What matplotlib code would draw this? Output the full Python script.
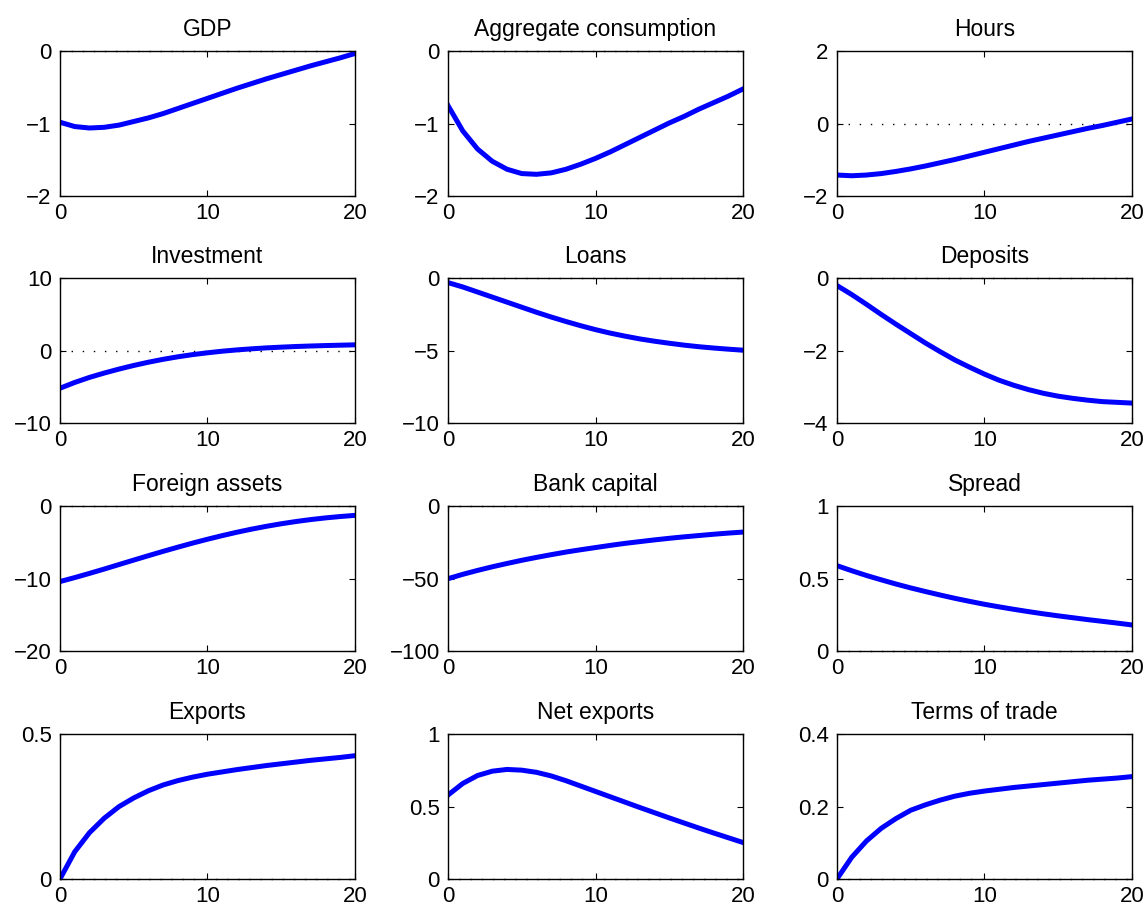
import matplotlib
matplotlib.use('Agg')
import matplotlib.pyplot as plt
import numpy as np

plt.rcParams['font.family'] = ['Liberation Sans', 'DejaVu Sans']

periods = np.arange(21)

titles = ['GDP', 'Aggregate consumption', 'Hours',
          'Investment', 'Loans', 'Deposits',
          'Foreign assets', 'Bank capital', 'Spread',
          'Exports', 'Net exports', 'Terms of trade']

gdp = [-0.98, -1.04, -1.06, -1.05, -1.02, -0.97, -0.92, -0.86, -0.79, -0.72, -0.65,
       -0.58, -0.51, -0.445, -0.38, -0.32, -0.26, -0.2, -0.145, -0.09, -0.03]
consumption = [-0.75, -1.1, -1.35, -1.52, -1.63, -1.69, -1.70, -1.68, -1.63, -1.56, -1.48,
               -1.39, -1.29, -1.19, -1.09, -0.99, -0.90, -0.80, -0.71, -0.62, -0.52]
hours = [-1.42, -1.44, -1.42, -1.38, -1.32, -1.25, -1.17, -1.08, -0.99, -0.89, -0.79,
         -0.69, -0.59, -0.49, -0.40, -0.31, -0.22, -0.13, -0.05, 0.04, 0.13]
investment = [-5.2, -4.4, -3.7, -3.1, -2.55, -2.05, -1.6, -1.2, -0.85, -0.55, -0.3,
              -0.08, 0.1, 0.25, 0.38, 0.48, 0.57, 0.64, 0.7, 0.75, 0.8]
loans = [-0.3, -0.6, -0.95, -1.3, -1.65, -2.0, -2.35, -2.68, -2.99, -3.28, -3.55,
         -3.79, -4.0, -4.19, -4.35, -4.49, -4.62, -4.73, -4.82, -4.9, -4.97]
deposits = [-0.2, -0.45, -0.72, -1.0, -1.27, -1.53, -1.79, -2.03, -2.26, -2.46, -2.65,
            -2.82, -2.96, -3.08, -3.18, -3.26, -3.32, -3.37, -3.41, -3.43, -3.45]
foreign_assets = [-10.4, -9.85, -9.27, -8.67, -8.05, -7.43, -6.82, -6.22, -5.64, -5.08, -4.55,
                  -4.05, -3.58, -3.15, -2.76, -2.41, -2.1, -1.83, -1.6, -1.41, -1.25]
bank_capital = [-50, -47, -44.3, -41.8, -39.5, -37.3, -35.3, -33.4, -31.6, -30.0, -28.5,
                -27.0, -25.6, -24.4, -23.2, -22.1, -21.1, -20.2, -19.3, -18.5, -17.8]
spread = [0.59, 0.555, 0.522, 0.492, 0.463, 0.436, 0.411, 0.387, 0.364, 0.343, 0.323,
          0.305, 0.288, 0.272, 0.257, 0.243, 0.230, 0.217, 0.205, 0.193, 0.18]
exports = [0.0, 0.094, 0.16, 0.21, 0.25, 0.28, 0.305, 0.325, 0.34, 0.352, 0.362,
           0.37, 0.378, 0.385, 0.392, 0.398, 0.404, 0.41, 0.415, 0.42, 0.426]
net_exports = [0.58, 0.66, 0.715, 0.745, 0.757, 0.752, 0.737, 0.712, 0.679, 0.642, 0.605,
               0.568, 0.531, 0.494, 0.458, 0.422, 0.387, 0.352, 0.318, 0.285, 0.252]
terms_of_trade = [0.0, 0.06, 0.105, 0.14, 0.167, 0.19, 0.205, 0.218, 0.229, 0.237, 0.243,
                  0.248, 0.253, 0.257, 0.261, 0.265, 0.269, 0.273, 0.276, 0.279, 0.283]

series = [gdp, consumption, hours, investment, loans, deposits,
          foreign_assets, bank_capital, spread, exports, net_exports, terms_of_trade]

ylims = [(-2, 0), (-2, 0), (-2, 2), (-10, 10), (-10, 0), (-4, 0),
         (-20, 0), (-100, 0), (0, 1), (0, 0.5), (0, 1), (0, 0.4)]
yticks = [[-2, -1, 0], [-2, -1, 0], [-2, 0, 2], [-10, 0, 10], [-10, -5, 0], [-4, -2, 0],
          [-20, -10, 0], [-100, -50, 0], [0, 0.5, 1], [0, 0.5], [0, 0.5, 1], [0, 0.2, 0.4]]

fig = plt.figure(figsize=(11.47, 9.10), dpi=100)

lefts = [0.0523, 0.3906, 0.7297]
bottoms = [0.7846, 0.5352, 0.2846, 0.0341]
w, h = 0.2572, 0.159

for i in range(12):
    r, c = divmod(i, 3)
    ax = fig.add_axes([lefts[c], bottoms[r], w, h])
    ax.plot(periods, np.zeros(21), color='k', linestyle=(0, (1, 7)), linewidth=1.0,
            clip_on=False)
    ax.plot(periods, series[i], color='#0000ff', linewidth=3.6)
    ax.set_xlim(0, 20)
    ax.set_ylim(*ylims[i])
    ax.set_xticks([0, 10, 20])
    ax.set_yticks(yticks[i])
    ax.set_yticklabels(['%g' % v if v >= 0 else '\u2212%g' % -v for v in yticks[i]])
    ax.tick_params(direction='in', top=True, right=True, length=4, width=0.8,
                   labelsize=16)
    ax.tick_params(axis='x', pad=5)
    ax.tick_params(axis='y', pad=6)
    for s in ax.spines.values():
        s.set_linewidth(1.0)
    ax.set_title(titles[i], fontsize=16.5, pad=11)

fig.savefig('out.png', dpi=100)
